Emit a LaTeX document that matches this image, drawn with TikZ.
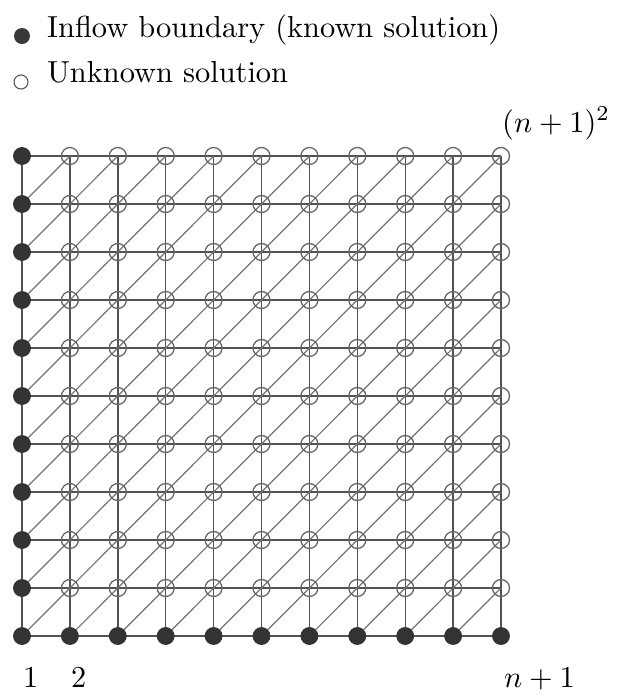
\documentclass[tikz,border=0pt]{standalone}
\usepackage{graphicx}
\newcommand{\bigtxt}[1]{\scalebox{3.04}{\fontsize{10}{12}\selectfont #1}}
\begin{document}
\begin{tikzpicture}[x=1pt,y=-1pt,
  gridline/.style={draw=black!68,line width=1.4pt},
  diagline/.style={draw=black!55,line width=1.2pt},
  known/.style={circle,fill=black!80,draw=black!80,line width=0.8pt,minimum size=17pt,inner sep=0pt},
  unknown/.style={circle,draw=black!60,line width=1.3pt,minimum size=17pt,inner sep=0pt},
  legknown/.style={circle,fill=black!78,minimum size=16pt,inner sep=0pt},
  legunknown/.style={circle,draw=black!65,line width=1.1pt,minimum size=14pt,inner sep=0pt},
  lab/.style={inner sep=0pt,anchor=base west}]
\useasboundingbox (0,0) rectangle (617,697);
% legend
\node[legknown] (lk) at (22,36) {};
\node[lab] (lkt) at (47,37) {\bigtxt{Inflow boundary (known solution)}};
\node[legunknown] (lu) at (21,82) {};
\node[lab] (lut) at (47,82) {\bigtxt{Unknown solution}};
% grid points
\foreach \i in {0,...,10}{
  \foreach \j in {0,...,10}{
    \coordinate (p-\i-\j) at ({22+47.9*\i},{636-48*\j});
  }
}
% grid lines
\foreach \k in {0,...,10}{
  \draw[gridline] (p-0-\k) -- (p-10-\k);
  \draw[gridline] (p-\k-0) -- (p-\k-10);
}
% diagonals
\foreach \i in {0,...,9}{
  \foreach \j in {0,...,9}{
    \pgfmathtruncatemacro{\ii}{\i+1}
    \pgfmathtruncatemacro{\jj}{\j+1}
    \draw[diagline] (p-\i-\j) -- (p-\ii-\jj);
  }
}
% nodes
\foreach \i in {0,...,10}{
  \foreach \j in {0,...,10}{
    \pgfmathtruncatemacro{\isk}{(\i==0)||(\j==0)}
    \ifnum\isk=1
      \node[known] (n-\i-\j) at (p-\i-\j) {};
    \else
      \node[unknown] (n-\i-\j) at (p-\i-\j) {};
    \fi
  }
}
% labels
\node[lab] (top) at (502,132) {\bigtxt{$(n+1)^2$}};
\node[lab] (l1) at (23,687) {\bigtxt{$1$}};
\node[lab] (l2) at (71,687) {\bigtxt{$2$}};
\node[lab] (ln) at (504,687) {\bigtxt{$n+1$}};
\end{tikzpicture}
\end{document}
